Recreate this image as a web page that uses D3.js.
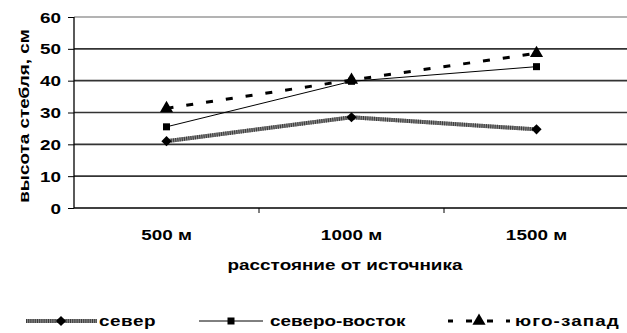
<!DOCTYPE html>
<html><head><meta charset="utf-8">
<script src="https://cdn.jsdelivr.net/npm/d3@7"></script>
<style>
body{margin:0;background:#fff;}
text{font-family:"Liberation Sans",Arial,sans-serif;font-weight:bold;fill:#000;}
</style></head>
<body>
<svg id="c" width="627" height="333"></svg>
<script>
const categories = ["500 м", "1000 м", "1500 м"];
const sever = [21, 28.5, 24.7];
const severVostok = [25.5, 39.8, 44.4];
const yugoZapad = [31.3, 40.2, 48.6];
const yTicks = [0, 10, 20, 30, 40, 50, 60];
const seriesNames = ["север", "северо-восток", "юго-запад"];

const SX = 1.35; // horizontal stretch of the reference's text
const FS = "14px";
const svg = d3.select("#c");
const x = d3.scaleBand().domain(categories).range([74, 629]).padding(0);
const y = d3.scaleLinear().domain([0, 60]).range([208, 17]);

function stext(parent, tx, ty, str, anchor, rot, ls) {
  const t = parent.append("text")
    .attr("transform", `translate(${tx},${ty})` + (rot ? ` rotate(${rot})` : "") + ` scale(${SX},1)`)
    .attr("text-anchor", anchor || "start").style("font-size", FS).text(str);
  if (ls) t.style("letter-spacing", ls + "px");
  return t;
}

// gridlines
svg.append("g").selectAll("line").data(yTicks.filter(d => d > 0)).join("line")
  .attr("x1", 74).attr("x2", 627)
  .attr("y1", d => y(d)).attr("y2", d => y(d))
  .attr("stroke", d => d === 60 ? "#9a9a9a" : "#333").attr("stroke-width", d => d === 60 ? 1.5 : 1.7);

// y axis
const yAxis = d3.axisLeft(y).tickValues(yTicks).tickSize(6).tickPadding(6);
const gy = svg.append("g").attr("transform", "translate(74,0)").call(yAxis);
gy.select(".domain").attr("stroke", "#000").attr("stroke-width", 1.3).attr("d", `M0,${y(60)}V${y(0)}`);
gy.selectAll(".tick line").attr("stroke", "#000");
gy.selectAll(".tick text").attr("x", null).attr("dy", null)
  .attr("transform", `translate(-13,5) scale(${SX},1)`)
  .style("font-size", FS).style("font-family", "Liberation Sans, Arial").style("font-weight", "bold").attr("fill", "#000");

// x axis
const gx = svg.append("g").attr("transform", `translate(0,${y(0)})`);
gx.append("line").attr("x1", 74).attr("x2", 627).attr("stroke", "#000").attr("stroke-width", 1.3);
const bounds = categories.map(c => x(c)).slice(1);
gx.selectAll(".tk").data(bounds).join("line").attr("class", "tk")
  .attr("x1", d => d).attr("x2", d => d).attr("y1", 0).attr("y2", 5).attr("stroke", "#000");
categories.forEach(c => stext(gx, x(c) + x.bandwidth() / 2, 32, c, "middle"));

// axis titles
stext(svg, 345, 270, "расстояние от источника", "middle");
stext(svg, 29, 116, "высота стебля, см", "middle", -90);

const cx = c => x(c) + x.bandwidth() / 2;
const line = d3.line().x(d => cx(d.c)).y(d => y(d.v));
const pts = arr => categories.map((c, i) => ({c, v: arr[i]}));

// север: textured gray thick line
function severLine(sel) {
  sel.append("path").attr("fill", "none").attr("stroke", "#8a8a8a").attr("stroke-width", 4);
  sel.append("path").attr("fill", "none").attr("stroke", "#3a3a3a").attr("stroke-width", 4).attr("stroke-dasharray", "1,1.2");
}
const gS = svg.append("g");
severLine(gS);
gS.selectAll("path").attr("d", line(pts(sever)));
const diamond = d3.symbol().type(d3.symbolSquare).size(52);
gS.selectAll(".m").data(pts(sever)).join("path").attr("class", "m")
  .attr("transform", d => `translate(${cx(d.c)},${y(d.v)}) rotate(45)`).attr("d", diamond).attr("fill", "#000");

// северо-восток
const gN = svg.append("g");
gN.append("path").attr("d", line(pts(severVostok))).attr("fill", "none").attr("stroke", "#000").attr("stroke-width", 1);
gN.selectAll(".m").data(pts(severVostok)).join("rect").attr("class", "m")
  .attr("x", d => cx(d.c) - 3.5).attr("y", d => y(d.v) - 3.5).attr("width", 7).attr("height", 7).attr("fill", "#000");

// юго-запад
const gW = svg.append("g");
gW.append("path").attr("d", line(pts(yugoZapad))).attr("fill", "none").attr("stroke", "#000")
  .attr("stroke-width", 3).attr("stroke-dasharray", "7,13");
const tri = d3.symbol().type(d3.symbolTriangle).size(75);
gW.selectAll(".m").data(pts(yugoZapad)).join("path").attr("class", "m")
  .attr("transform", d => `translate(${cx(d.c)},${y(d.v)})`).attr("d", tri).attr("fill", "#000");

// legend
const ly = 321;
const lg = svg.append("g");
const l1 = lg.append("g");
severLine(l1);
l1.selectAll("path").attr("d", `M26,${ly}H97`);
l1.append("path").attr("transform", `translate(61,${ly}) rotate(45)`).attr("d", diamond).attr("fill", "#000");
stext(lg, 99, ly + 5, seriesNames[0], "start", 0, 0.4);

lg.append("line").attr("x1", 199).attr("x2", 263).attr("y1", ly).attr("y2", ly).attr("stroke", "#000");
lg.append("rect").attr("x", 231 - 3.5).attr("y", ly - 3.5).attr("width", 7).attr("height", 7).attr("fill", "#000");
stext(lg, 270, ly + 5, seriesNames[1]);

lg.append("path").attr("d", `M448,${ly}H510`).attr("stroke", "#000").attr("stroke-width", 3)
  .attr("stroke-dasharray", "5,13,6,15,6,13,4");
lg.append("path").attr("transform", `translate(479,${ly})`).attr("d", tri).attr("fill", "#000");
stext(lg, 515, ly + 5, seriesNames[2], "start", 0, 0.8);
</script>
</body></html>
